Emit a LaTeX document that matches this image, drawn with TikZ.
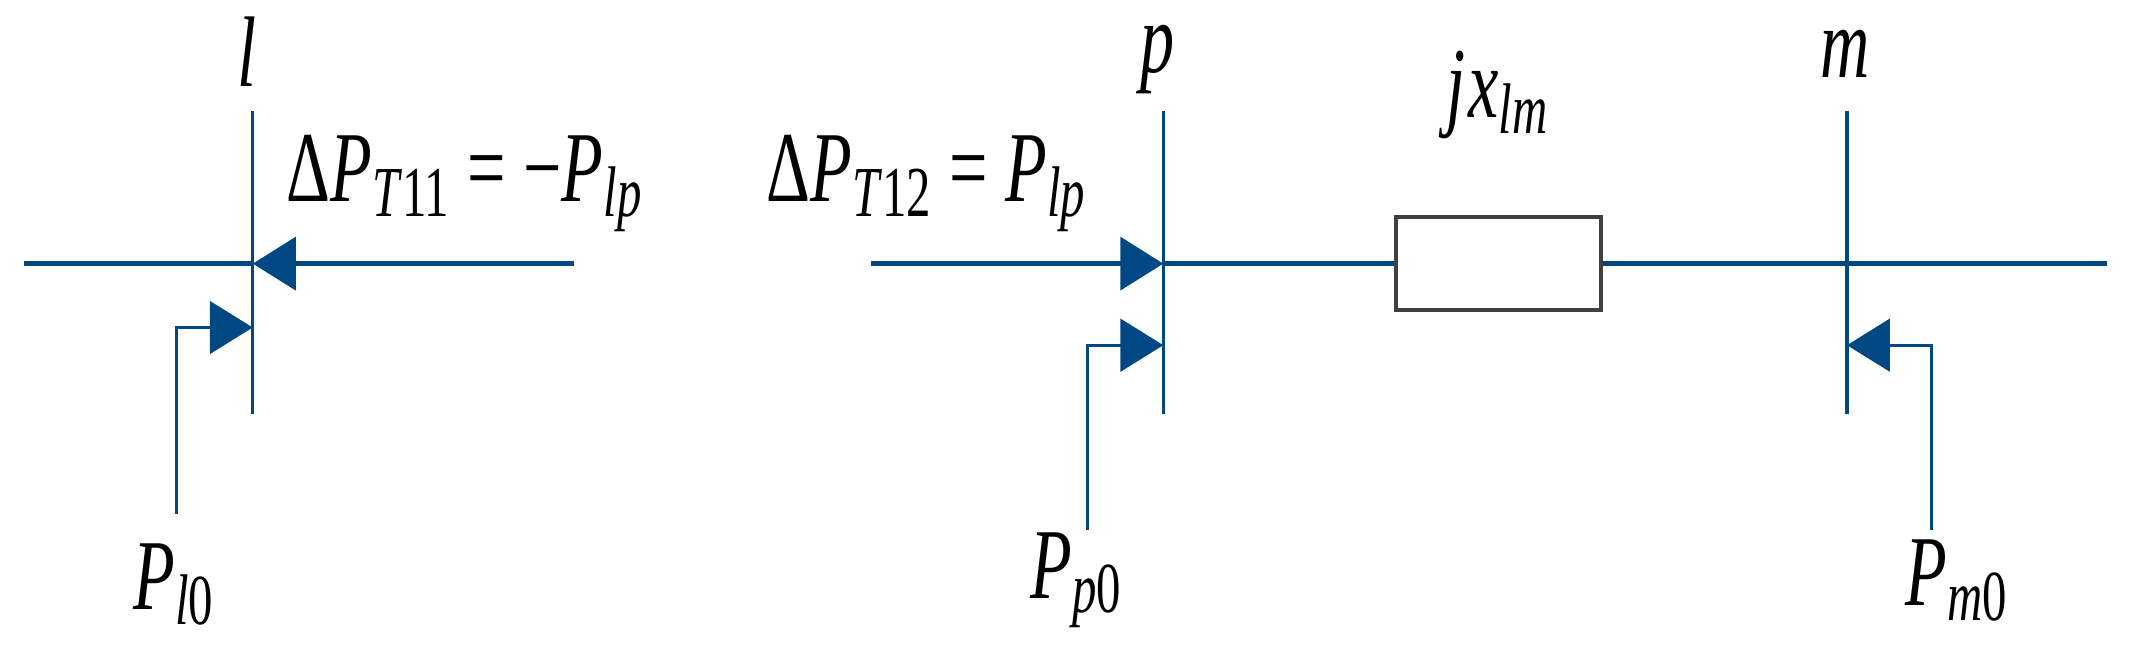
\documentclass[tikz,border=0pt]{standalone}
\usepackage{fontspec}
\setmainfont{Liberation Serif}
\usetikzlibrary{arrows.meta}
\definecolor{bl}{RGB}{0,72,132}
\tikzset{
  wire/.style={draw=bl,line width=1.1pt},
  thin/.style={draw=bl,line width=0.7pt},
  arr/.style={-{Triangle[length=9pt,width=11pt]}},
  lab/.style={font=\fontsize{21}{24}\selectfont\itshape,inner sep=0pt,transform shape,xscale=0.68},
}
\newcommand{\sbx}[1]{\textsubscript{\fontsize{15}{16}\selectfont #1}}
\begin{document}
\begin{tikzpicture}[x=0.01cm,y=-0.01cm]
\useasboundingbox (0,0) rectangle (1568,480);
% buses
\coordinate (lt) at (186,82); \coordinate (lb) at (186,305);
\coordinate (pt) at (856,82); \coordinate (pb) at (856,305);
\coordinate (mt) at (1359,82); \coordinate (mb) at (1359,305);
\draw[thin] (lt)--(lb); \draw[thin] (pt)--(pb); \draw[thin] (mt)--(mb);
\coordinate (l) at (186,194); \coordinate (p) at (856,194); \coordinate (m) at (1359,194);
% horizontal lines
\coordinate (a0) at (18,194); \coordinate (a1) at (422,194);
\draw[wire] (a0)--(l);
\draw[wire,arr] (a1)--(l);
\coordinate (b0) at (641,194);
\draw[wire,arr] (b0)--(p);
\node[draw=black!75,line width=0.8pt,minimum width=1.51cm,minimum height=0.68cm,inner sep=0pt] (box) at (1102.5,194) {};
\draw[wire] (p)--(box.west);
\coordinate (e) at (1550,194);
\draw[wire] (box.east)--(e);
% injections
\coordinate (l0) at (130,378); \coordinate (li) at (186,241);
\draw[thin,arr] (l0)|-(li);
\coordinate (p0) at (800,390); \coordinate (pi) at (856,254);
\draw[thin,arr] (p0)|-(pi);
\coordinate (m0) at (1421,390); \coordinate (mi) at (1359,254);
\draw[thin,arr] (m0)|-(mi);
% labels
\node[lab] (Ll) at (182,38) {l};
\node[lab] (Lp) at (852,44) {p};
\node[lab] (Lm) at (1358,40) {m};
\node[lab] (Lj) at (1102,70) {j\kern1pt x\sbx{lm}};
\node[lab,font=\fontsize{21}{24}\selectfont] (L1) at (342,135) {Δ\textit{P}\sbx{\textit{T}11} = −\textit{P}\sbx{\textit{lp}}};
\node[lab,font=\fontsize{21}{24}\selectfont] (L2) at (682,135) {Δ\textit{P}\sbx{\textit{T}12} = \textit{P}\sbx{\textit{lp}}};
\node[lab] (Ll0) at (128,430) {P\sbx{l\upshape 0}};
\node[lab] (Lp0) at (792,427) {P\sbx{p\upshape 0}};
\node[lab] (Lm0) at (1440,427) {P\sbx{m\upshape 0}};
\end{tikzpicture}
\end{document}
